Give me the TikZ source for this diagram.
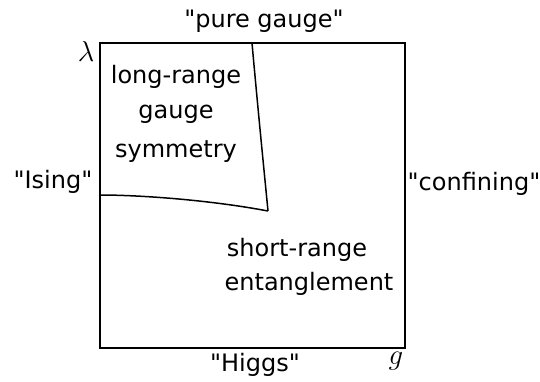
\documentclass[tikz,border=0pt]{standalone}
\usepackage{fontspec}
\newfontfamily\dvfont{DejaVu Sans}
\begin{document}
\begin{tikzpicture}[x=0.5pt,y=-0.5pt,
  lbl/.style={font=\dvfont\fontsize{12}{14}\selectfont, inner sep=0pt, align=center},
  mlbl/.style={font=\fontsize{15}{17}\selectfont, inner sep=0pt},
  edge/.style={line width=0.75pt, black}]
\useasboundingbox (0,0) rectangle (540,381);
\draw[edge] (100,43) rectangle (405,348);
\coordinate (top) at (252,43);
\coordinate (corner) at (268,211);
\coordinate (left) at (100,195);
\draw[edge] (top) .. controls (258,110) and (264,170) .. (corner);
\draw[edge] (left) .. controls (140,195) and (210,200) .. (corner);
\node[lbl] (pg) at (264,21) {"pure gauge"};
\node[mlbl] (lam) at (86,51) {$\lambda$};
\node[lbl] (lr) at (176,77) {long-range};
\node[lbl] (ga) at (176,114) {gauge};
\node[lbl] (sy) at (176,152) {symmetry};
\node[lbl] (is) at (53,182) {"Ising"};
\node[lbl] (co) at (474,184) {"confining"};
\node[lbl] (sr) at (297,250) {short-range};
\node[lbl] (en) at (309,284) {entanglement};
\node[lbl] (hi) at (255,365) {"Higgs"};
\node[mlbl] (gg) at (396,361) {$g$};
\end{tikzpicture}
\end{document}
